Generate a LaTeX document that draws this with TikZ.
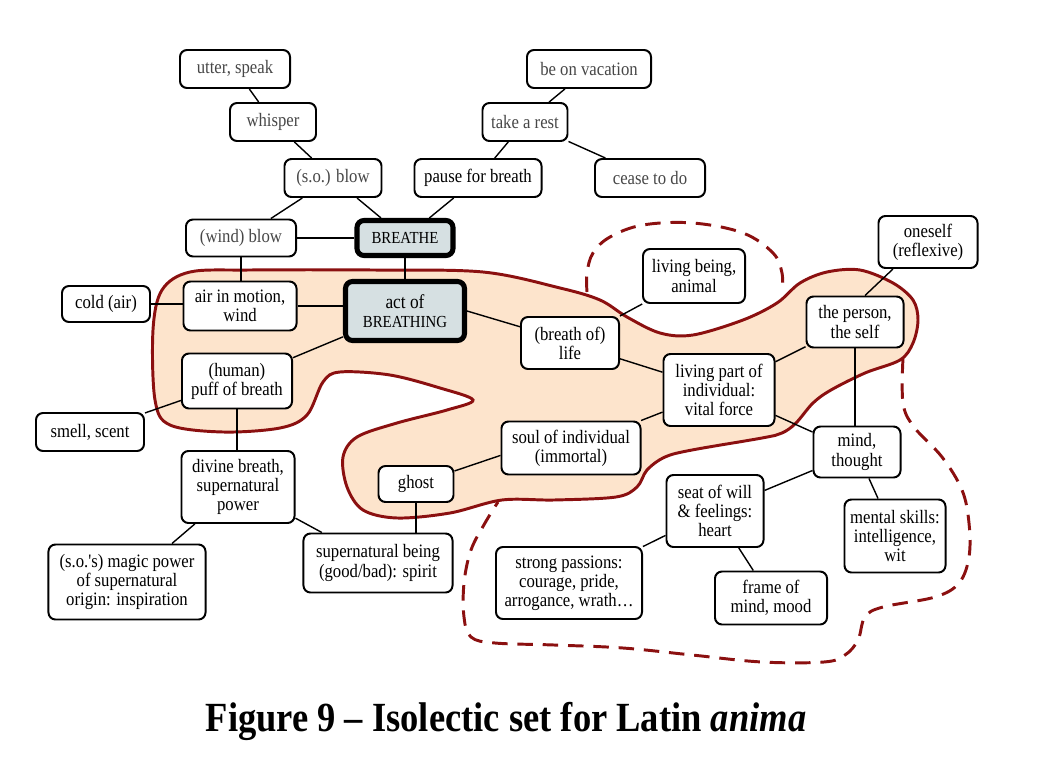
\documentclass[tikz,border=0pt]{standalone}
\usepackage{fontspec}
\setmainfont{Liberation Serif}[FakeStretch=0.88]
\newfontfamily\straightfont{Liberation Serif}[FakeStretch=0.88, Ligatures=TeXOff]
\usepackage{tikz}
\usepackage{xcolor}
\usetikzlibrary{positioning}
\definecolor{blobred}{RGB}{139,16,16}
\definecolor{blobfill}{RGB}{253,228,204}
\definecolor{headfill}{RGB}{214,224,226}

\begin{document}
\begin{tikzpicture}[x=0.025cm, y=-0.025cm,
		box/.style={draw, line width=1.4pt, rounded corners=5pt, fill=white, align=center, inner sep=1pt, font=\fontsize{13.5}{13.6}\selectfont},
		headbox/.style={box, line width=3.6pt, fill=headfill, font=\fontsize{12}{14}\selectfont},
		grey/.style={text=black!72},
		link/.style={line width=1pt}]
			\useasboundingbox (0,0) rectangle (1042,776);

			% the isolectic set
			\draw[blobred, line width=2.1pt, fill=blobfill] plot[smooth cycle, tension=0.55] coordinates {(190,272) (250,270) (373,270) (483,272) (560,288) (600,300) (627,317) (660,333) (693,335) (743,320) (777,303) (800,283) (827,272) (860,270) (893,283) (913,300) (918,320) (913,343) (900,360) (865,373) (831,390) (813,403) (796,423) (782,433) (762,438) (692,450) (665,457) (647,470) (637,487) (616,497) (554,500) (502,500) (450,513) (397,518) (363,510) (347,487) (343,457) (357,437) (397,423) (447,410) (473,400) (440,388) (390,375) (340,372) (323,382) (307,415) (280,428) (223,432) (170,425) (155,400) (153,330) (162,290)};
			\draw[blobred, line width=2.1pt, dash pattern=on 11pt off 7pt] plot[smooth, tension=0.6] coordinates {(587,292) (587,273) (593,253) (610,237) (643,225) (693,223) (743,233) (773,253) (782,273) (782,292)};
			\draw[blobred, line width=2.1pt, dash pattern=on 11pt off 7pt] plot[smooth, tension=0.6] coordinates {(903,358) (903,403) (914,427) (942,457) (962,490) (969,523) (969,557) (959,583) (935,597) (883,607) (865,617) (858,640) (845,655) (824,662) (762,662) (692,655) (623,648) (554,645) (495,643) (471,637) (464,617) (464,583) (471,550) (485,523) (498,502)};

			% senses
			\node[box, grey, minimum width=2.75cm, minimum height=0.95cm] (utter) at (235,69) {utter, speak};
			\node[box, grey, minimum width=2.15cm, minimum height=0.95cm] (whisper) at (273,122) {whisper};
			\node[box, grey, minimum width=2.425cm, minimum height=0.95cm] (soblow) at (333,178) {(s.o.) blow};
			\node[box, minimum width=3.175cm, minimum height=0.95cm] (pause) at (478,178) {pause for breath};
			\node[box, grey, minimum width=3.1cm, minimum height=0.95cm] (vacation) at (589,69) {be on vacation};
			\node[box, grey, minimum width=2.125cm, minimum height=0.95cm] (rest) at (525,122) {take a rest};
			\node[box, grey, minimum width=2.75cm, minimum height=0.95cm] (cease) at (650,178) {cease to do};
			\node[box, grey, minimum width=2.75cm, minimum height=0.925cm] (windblow) at (241,238) {(wind) blow};
			\node[headbox, minimum width=2.4cm, minimum height=0.875cm] (breathe) at (405,238) {BREATHE};
			\node[box, minimum width=2.2cm, minimum height=0.9cm] (cold) at (106,304) {cold (air)};
			\node[box, minimum width=2.825cm, minimum height=1.225cm] (air) at (240,306) {air in motion,\\wind};
			\node[headbox, minimum width=2.975cm, minimum height=1.475cm] (act) at (405,311) {{\fontsize{14}{14}\selectfont act of}\\ BREATHING};
			\node[box, minimum width=2.75cm, minimum height=1.375cm] (puff) at (237,381) {(human)\\puff of breath};
			\node[box, minimum width=2.7cm, minimum height=0.95cm] (smell) at (90,432) {smell, scent};
			\node[box, minimum width=2.825cm, minimum height=1.8cm] (divine) at (238,487) {divine breath,\\supernatural\\power};
			\node[box, minimum width=3.925cm, minimum height=1.875cm] (magic) at (127,582) {(s.o.{\straightfont '}s) magic power\\of supernatural\\origin: inspiration};
			\node[box, minimum width=3.725cm, minimum height=1.475cm] (being) at (378,563) {supernatural being\\(good/bad): spirit};
			\node[box, minimum width=1.875cm, minimum height=0.9cm] (ghost) at (416,484) {ghost};
			\node[box, minimum width=3.475cm, minimum height=1.325cm] (soul) at (571,448) {soul of individual\\(immortal)};
			\node[box, minimum width=2.45cm, minimum height=1.3cm] (life) at (570,343) {(breath of)\\life};
			\node[box, minimum width=2.55cm, minimum height=1.35cm] (animal) at (694,276) {living being,\\animal};
			\node[box, minimum width=2.775cm, minimum height=1.8cm] (vital) at (719,390) {living part of\\individual:\\vital force};
			\node[box, minimum width=2.475cm, minimum height=1.3cm] (reflexive) at (928,242) {oneself\\(reflexive)};
			\node[box, minimum width=2.425cm, minimum height=1.275cm] (self) at (855,322) {the person,\\the self};
			\node[box, minimum width=2.175cm, minimum height=1.275cm] (mind) at (857,452) {mind,\\thought};
			\node[box, minimum width=2.425cm, minimum height=1.8cm] (seat) at (715,511) {seat of will\\\& feelings:\\heart};
			\node[box, minimum width=2.525cm, minimum height=1.825cm] (mental) at (895,536) {mental skills:\\intelligence,\\wit};
			\node[box, minimum width=3.65cm, minimum height=1.8cm] (passions) at (569,583) {strong passions:\\courage, pride,\\arrogance, wrath\dots};
			\node[box, minimum width=2.8cm, minimum height=1.325cm] (mood) at (771,598) {frame of\\mind, mood};

			% links
			\draw[link] (utter) -- (whisper);
			\draw[link] (whisper) -- (soblow);
			\draw[link] (soblow) -- (windblow);
			\draw[link] (soblow) -- (breathe);
			\draw[link] (pause) -- (breathe);
			\draw[link] (rest) -- (pause);
			\draw[link] (rest) -- (vacation);
			\draw[link] (rest) -- (cease);
			\draw[link] (windblow) -- (breathe);
			\draw[link] (windblow) -- (windblow |- air.north);
			\draw[link] (breathe) -- (act);
			\draw[link] (cold) -- (cold -| air.west);
			\draw[link] (air.east) -- (air.east -| act.west);
			\draw[link] (act) -- (puff);
			\draw[link] (act.east) -- (life.162);
			\draw[link] (puff) -- (smell);
			\draw[link] (puff) -- (puff |- divine.north);
			\draw[link] (divine) -- (magic);
			\draw[link] (divine) -- (being);
			\draw[link] (ghost) -- (ghost |- being.north);
			\draw[link] (ghost) -- (soul.186);
			\draw[link] (soul) -- (vital);
			\draw[link] (life) -- (animal);
			\draw[link] (life) -- (vital);
			\draw[link] (vital) -- (self);
			\draw[link] (vital) -- (mind);
			\draw[link] ([xshift=0.25cm]self.north) -- ([xshift=-0.875cm]reflexive.south);
			\draw[link] (self) -- (self |- mind.north);
			\draw[link] (mind) -- (seat);
			\draw[link] (mind) -- (mental);
			\draw[link] (seat) -- (passions);
			\draw[link] (seat) -- (mood);

			\node[font=\fontsize{29.5}{32}\selectfont\bfseries] (caption) at (506,721) {Figure 9 – Isolectic set for Latin \textit{anima}};
		\end{tikzpicture}
\end{document}
